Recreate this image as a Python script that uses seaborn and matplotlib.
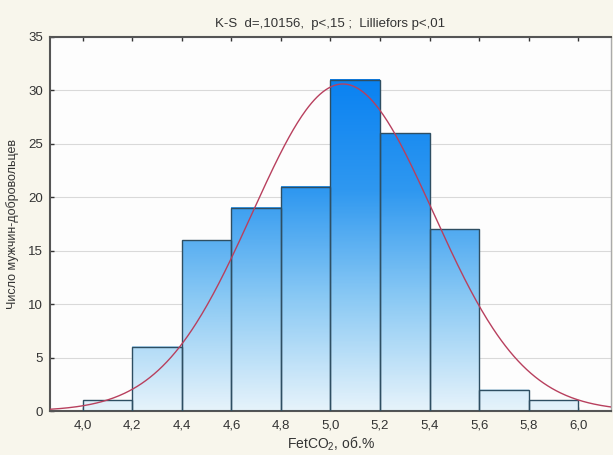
import numpy as np
import matplotlib
matplotlib.use("Agg")
import matplotlib.pyplot as plt
from matplotlib.colors import LinearSegmentedColormap, Normalize
import seaborn as sns

# ---- data ----
bin_edges = [4.0, 4.2, 4.4, 4.6, 4.8, 5.0, 5.2, 5.4, 5.6, 5.8, 6.0]
bin_mids = [4.1, 4.3, 4.5, 4.7, 4.9, 5.1, 5.3, 5.5, 5.7, 5.9]
counts = [1, 6, 16, 19, 21, 31, 26, 17, 2, 1]
x_ticks = [4.0, 4.2, 4.4, 4.6, 4.8, 5.0, 5.2, 5.4, 5.6, 5.8, 6.0]
x_tick_labels = ["4,0", "4,2", "4,4", "4,6", "4,8", "5,0", "5,2", "5,4", "5,6", "5,8", "6,0"]
y_ticks = [0, 5, 10, 15, 20, 25, 30, 35]
curve_mean = 5.05
curve_sd = 0.365
title = "K-S  d=,10156,  p<,15 ;  Lilliefors p<,01"
xlabel = "FetCO$_2$, об.%"
ylabel = "Число мужчин-добровольцев"

sns.set_theme(style="white")
plt.rcParams["font.family"] = ["Liberation Sans", "DejaVu Sans"]
plt.rcParams["mathtext.fontset"] = "custom"
plt.rcParams["mathtext.rm"] = "Liberation Sans"

fig = plt.figure(figsize=(6.13, 4.55), dpi=100, facecolor="#f8f6ec")
ax = fig.add_axes([0.0816, 0.0967, 0.9151, 0.822])
ax.set_facecolor("#fdfdfd")

sns.histplot(x=bin_mids, weights=counts, bins=bin_edges, ax=ax,
             stat="count", element="bars", fill=True,
             facecolor="none", edgecolor="#2e4e62", linewidth=1.0, zorder=3)

# gradient fill (absolute in y)
cmap = LinearSegmentedColormap.from_list("g", ["#e6f3fb", "#8ccaf4", "#2f98f0", "#0a82f2"])
norm = Normalize(vmin=0, vmax=31)
for p in ax.patches:
    x0 = p.get_x(); w = p.get_width(); h = p.get_height()
    if h <= 0:
        continue
    grad = np.linspace(h, 0, 200).reshape(-1, 1)
    ax.imshow(grad, extent=(x0, x0 + w, 0, h), aspect="auto", cmap=cmap,
              norm=norm, zorder=2, interpolation="bilinear")
    p.set_facecolor("none")

xlim = (3.868, 6.132)
xs = np.linspace(xlim[0], xlim[1], 400)
width = bin_edges[1] - bin_edges[0]
N = sum(counts)
ys = N * width / (curve_sd * np.sqrt(2 * np.pi)) * np.exp(-0.5 * ((xs - curve_mean) / curve_sd) ** 2)
sns.lineplot(x=xs, y=ys, ax=ax, color="#b8405e", linewidth=1.0, zorder=4)

ax.set_xlim(*xlim)
ax.set_ylim(0, 35)
ax.set_xticks(x_ticks)
ax.set_xticklabels(x_tick_labels)
ax.set_yticks(y_ticks)
ax.set_yticklabels([str(v) for v in y_ticks])
ax.yaxis.grid(True, color="#d9d9d9", linewidth=0.8, zorder=0)
ax.set_axisbelow(True)
ax.tick_params(axis="both", direction="in", length=3, width=1, color="#333333",
               labelsize=9.5, labelcolor="#333333", top=True, bottom=True, left=True)
ax.tick_params(axis="x", pad=6)
ax.tick_params(axis="y", pad=5)
for side in ["left", "bottom", "top"]:
    ax.spines[side].set_color("#555555")
    ax.spines[side].set_linewidth(1.5)
ax.spines["right"].set_color("#aaaaaa")
ax.spines["right"].set_linewidth(1.0)

ax.set_title(title, fontsize=9.5, color="#333333", pad=7)
ax.set_xlabel(xlabel, fontsize=10, color="#333333", labelpad=2)
ax.set_ylabel(ylabel, fontsize=9, color="#333333")
ax.yaxis.set_label_coords(-0.055, 0.5)

fig.savefig("out.png", dpi=100, facecolor=fig.get_facecolor())
